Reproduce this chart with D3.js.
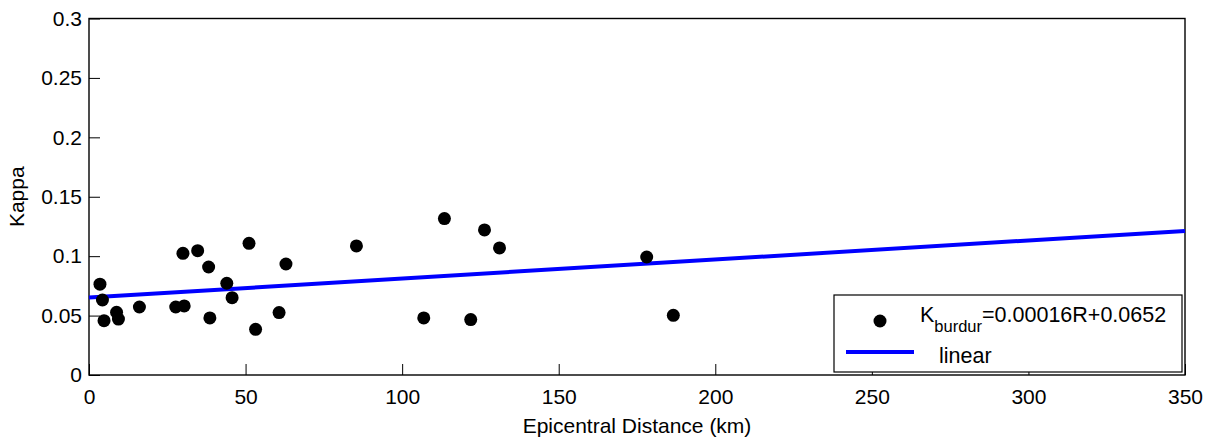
<!DOCTYPE html>
<html>
<head>
<meta charset="utf-8">
<script src="https://cdn.jsdelivr.net/npm/d3@7"></script>
<style>
  body { margin: 0; background: #fff; }
  text { font-family: "Liberation Sans", Arial, sans-serif; }
</style>
</head>
<body>
<div id="chart"></div>
<script>
// kappa values per station
const distances = [3.5, 4.3, 4.8, 8.8, 9.4, 16.1, 27.7, 30.4, 30.0, 34.7, 38.2, 38.6, 44.0, 45.7,
  51.1, 53.2, 60.7, 62.9, 85.4, 106.9, 113.5, 121.9, 126.3, 131.1, 178.1, 186.6];
const kappas = [0.0764, 0.0631, 0.0457, 0.0528, 0.0471, 0.0572, 0.0572, 0.0581, 0.1024, 0.1046, 0.0909, 0.0480, 0.0772, 0.0651,
  0.1108, 0.0384, 0.0525, 0.0934, 0.1086, 0.0480, 0.1316, 0.0466, 0.1221, 0.1069, 0.0993, 0.0502];

const xTicks = [0, 50, 100, 150, 200, 250, 300, 350];
const yTicks = [0, 0.05, 0.1, 0.15, 0.2, 0.25, 0.3];

// fit: K = 0.00016 R + 0.0652
const slope = 0.00016;
const intercept = 0.0652;
const fitRange = [0, 350];

const legendLabels = ["linear"];

const W = 1221, H = 440;
const margin = { top: 18.5, right: 36, bottom: 65, left: 89 };
const width = W - margin.left - margin.right;
const height = H - margin.top - margin.bottom;

const svg = d3.select("#chart")
  .append("svg")
  .attr("width", W)
  .attr("height", H)
  .append("g")
  .attr("transform", `translate(${margin.left},${margin.top})`);

const x = d3.scaleLinear().domain([0, 350]).range([0, width]);
const y = d3.scaleLinear().domain([0, 0.3]).range([height, 0]);

// x axis, ticks pointing in
const xAxis = svg.append("g")
  .attr("transform", `translate(0,${height})`)
  .call(d3.axisBottom(x).tickValues(xTicks).tickSize(-11).tickPadding(14).tickFormat(d3.format("d")));

// y axis
const yAxis = svg.append("g")
  .call(d3.axisLeft(y).tickValues(yTicks).tickSize(-11).tickPadding(7).tickFormat(d => d === 0 ? "0" : String(d)));

[xAxis, yAxis].forEach(a => {
  a.select(".domain").remove();
  a.selectAll(".tick line").attr("stroke", "#000").attr("stroke-width", 1);
  a.selectAll(".tick text").attr("fill", "#000").style("font-size", "21px");
});
xAxis.selectAll(".tick text").attr("dy", "0.71em");

// box round the plot
svg.append("rect")
  .attr("width", width)
  .attr("height", height)
  .attr("fill", "none")
  .attr("stroke", "#000")
  .attr("stroke-width", 1.4);

// axis titles
svg.append("text")
  .attr("x", width / 2)
  .attr("y", height + 58)
  .attr("text-anchor", "middle")
  .style("font-size", "21px")
  .text("Epicentral Distance (km)");

svg.append("text")
  .attr("transform", "rotate(-90)")
  .attr("x", -height / 2)
  .attr("y", -65)
  .attr("text-anchor", "middle")
  .style("font-size", "21px")
  .text("Kappa");

// regression line
const line = d3.line().x(d => x(d)).y(d => y(slope * d + intercept));
svg.append("path")
  .datum(fitRange)
  .attr("d", line)
  .attr("fill", "none")
  .attr("stroke", "#0000ff")
  .attr("stroke-width", 4);

// data points
svg.selectAll(".dot")
  .data(distances.map((d, i) => ({ r: d, k: kappas[i] })))
  .enter()
  .append("circle")
  .attr("class", "dot")
  .attr("cx", d => x(d.r))
  .attr("cy", d => y(d.k))
  .attr("r", 6.5)
  .attr("fill", "#000");

// legend
const lg = svg.append("g").attr("transform", `translate(${745},${276.5})`);
lg.append("rect")
  .attr("width", 348)
  .attr("height", 77)
  .attr("fill", "#fff")
  .attr("stroke", "#000")
  .attr("stroke-width", 1.2);

lg.append("circle").attr("cx", 46).attr("cy", 26).attr("r", 6.5).attr("fill", "#000");
const kt = lg.append("text").attr("x", 86).attr("y", 27).style("font-size", "21.5px");
kt.append("tspan").text("K");
kt.append("tspan").attr("dy", 10).style("font-size", "16.5px").text("burdur");
kt.append("tspan").attr("dy", -10).text("=" + slope.toFixed(5) + "R+" + intercept);

lg.append("line")
  .attr("x1", 12).attr("x2", 80)
  .attr("y1", 57).attr("y2", 57)
  .attr("stroke", "#0000ff")
  .attr("stroke-width", 4);
lg.append("text").attr("x", 105).attr("y", 68).style("font-size", "21.5px").text(legendLabels[0]);
</script>
</body>
</html>
